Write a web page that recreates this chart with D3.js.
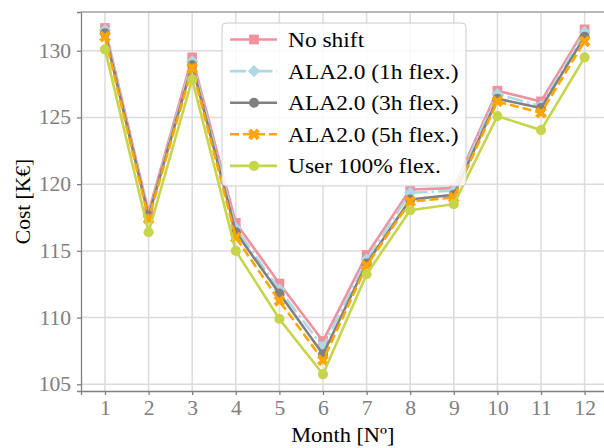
<!DOCTYPE html>
<html>
<head>
<meta charset="utf-8">
<script src="https://cdn.jsdelivr.net/npm/d3@7"></script>
<style>
  body { margin: 0; background: #fff; }
  svg text { font-family: "Liberation Serif", "Times New Roman", serif; }
</style>
</head>
<body>
<div id="chart"></div>
<script>
const months = [1, 2, 3, 4, 5, 6, 7, 8, 9, 10, 11, 12];
const yTicks = [105, 110, 115, 120, 125, 130];

const noShift = [131.7, 117.9, 129.5, 117.1, 112.55, 108.25, 114.7, 119.6, 119.7, 127.0, 126.2, 131.6];
const flex1h  = [131.55, 117.7, 129.2, 116.7, 112.1, 107.8, 114.35, 119.35, 119.5, 126.75, 125.85, 131.4];
const flex3h  = [131.3, 117.6, 128.9, 116.4, 111.8, 107.25, 114.05, 118.85, 119.2, 126.4, 125.7, 131.05];
const flex5h  = [131.05, 117.4, 128.7, 116.0, 111.25, 106.8, 113.9, 118.7, 119.0, 126.2, 125.35, 130.7];
const user100 = [130.1, 116.4, 127.85, 115.0, 109.9, 105.75, 113.25, 118.05, 118.5, 125.1, 124.05, 129.5];

const seriesNames = ["No shift", "ALA2.0 (1h flex.)", "ALA2.0 (3h flex.)", "ALA2.0 (5h flex.)", "User 100% flex."];

const series = [
  { name: seriesNames[0], values: noShift, color: "#f0919e", dash: null, marker: "square" },
  { name: seriesNames[1], values: flex1h, color: "#add8e6", dash: "16,4,2.5,4", marker: "diamond" },
  { name: seriesNames[2], values: flex3h, color: "#808080", dash: null, marker: "circle" },
  { name: seriesNames[3], values: flex5h, color: "#ffa500", dash: "9,4", marker: "x" },
  { name: seriesNames[4], values: user100, color: "#c8d44a", dash: null, marker: "circle" }
];

const width = 604, height = 448;
const plotLeft = 81, plotTop = 12, plotBottom = 391, plotRight = 608.6;
const stretch = 1.08; // glyphs in the picture are a bit wide

const svg = d3.select("#chart").append("svg")
  .attr("width", width)
  .attr("height", height);

const x = d3.scaleLinear().domain([0.45, 12.55]).range([plotLeft, plotRight]);
const y = d3.scaleLinear().domain([104.5, 132.9]).range([plotBottom, plotTop]);

// grid
svg.append("g").selectAll("line")
  .data(yTicks).enter().append("line")
  .attr("x1", plotLeft).attr("x2", plotRight)
  .attr("y1", d => y(d)).attr("y2", d => y(d))
  .attr("stroke", "#dcdcdc").attr("stroke-width", 1.5);
svg.append("g").selectAll("line")
  .data(months).enter().append("line")
  .attr("x1", d => x(d)).attr("x2", d => x(d))
  .attr("y1", plotTop).attr("y2", plotBottom)
  .attr("stroke", "#dcdcdc").attr("stroke-width", 1.5);

// axes
const xAxis = svg.append("g")
  .attr("transform", `translate(0,${plotBottom})`)
  .call(d3.axisBottom(x).tickValues(months).tickSize(4).tickPadding(6));
const yAxis = svg.append("g")
  .attr("transform", `translate(${plotLeft},0)`)
  .call(d3.axisLeft(y).tickValues(yTicks).tickSize(4).tickPadding(6));

[xAxis, yAxis].forEach(a => {
  a.attr("font-family", "Liberation Serif");
  a.select(".domain").attr("stroke", "#808080").attr("stroke-width", 1.3);
  a.selectAll(".tick line").attr("stroke", "#808080").attr("stroke-width", 1.3);
  a.selectAll(".tick text")
    .attr("fill", "#808080")
    .style("font-size", "20px");
});
xAxis.selectAll(".tick text").attr("transform", `scale(${stretch},1)`);
yAxis.selectAll(".tick text").attr("transform", `scale(${stretch},1)`).attr("x", -10 / stretch);

// top spine
svg.append("line")
  .attr("x1", plotLeft).attr("x2", plotRight)
  .attr("y1", plotTop).attr("y2", plotTop)
  .attr("stroke", "#a0a0a0").attr("stroke-width", 1.3);

// marker shapes
const markerPath = (type) => {
  if (type === "square") return d3.symbol(d3.symbolSquare, 95)();
  if (type === "diamond") return d3.symbol(d3.symbolSquare, 75)();
  if (type === "x") return d3.symbol(d3.symbolCross, 85)();
  return d3.symbol(d3.symbolCircle, 80)();
};
const markerRot = (type) => (type === "diamond" || type === "x") ? 45 : 0;

const line = d3.line()
  .x((d, i) => x(months[i]))
  .y(d => y(d));

series.forEach(s => {
  const g = svg.append("g");
  g.append("path")
    .datum(s.values)
    .attr("d", line)
    .attr("fill", "none")
    .attr("stroke", s.color)
    .attr("stroke-width", 2.6)
    .attr("stroke-dasharray", s.dash);
  g.selectAll("path.m")
    .data(s.values).enter().append("path")
    .attr("class", "m")
    .attr("d", markerPath(s.marker))
    .attr("transform", (d, i) => `translate(${x(months[i])},${y(d)}) rotate(${markerRot(s.marker)})`)
    .attr("fill", s.color);
});

// legend
const legend = svg.append("g");
legend.append("rect")
  .attr("x", 222).attr("y", 23)
  .attr("width", 244).attr("height", 163)
  .attr("rx", 4)
  .attr("fill", "#fff").attr("fill-opacity", 0.85)
  .attr("stroke", "#cccccc").attr("stroke-width", 1);

series.forEach((s, i) => {
  const ly = 39.5 + i * 31.6;
  legend.append("line")
    .attr("x1", 230).attr("x2", 277)
    .attr("y1", ly).attr("y2", ly)
    .attr("stroke", s.color)
    .attr("stroke-width", 2.6)
    .attr("stroke-dasharray", s.dash);
  legend.append("path")
    .attr("d", markerPath(s.marker))
    .attr("transform", `translate(254,${ly}) rotate(${markerRot(s.marker)})`)
    .attr("fill", s.color);
  legend.append("text")
    .attr("transform", `translate(288,${ly + 7.5}) scale(${stretch},1)`)
    .style("font-size", "21.7px")
    .attr("fill", "#000")
    .text(s.name);
});

// axis labels
svg.append("text")
  .attr("transform", `translate(${(plotLeft + plotRight) / 2 - 2},442) scale(${stretch},1)`)
  .attr("text-anchor", "middle")
  .style("font-size", "20.7px")
  .attr("fill", "#000")
  .text("Month [Nº]");
svg.append("text")
  .attr("transform", `translate(30,${(plotTop + plotBottom) / 2}) rotate(-90)`)
  .attr("text-anchor", "middle")
  .style("font-size", "21.5px")
  .attr("fill", "#000")
  .text("Cost [K€]");
</script>
</body>
</html>
